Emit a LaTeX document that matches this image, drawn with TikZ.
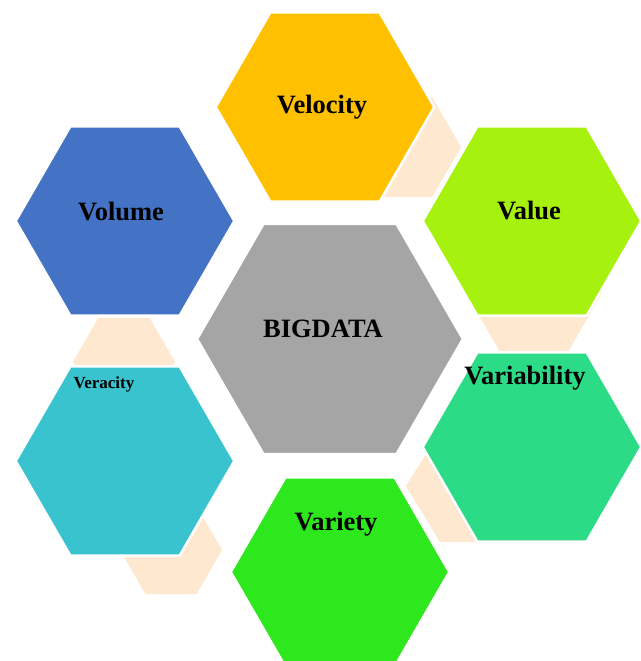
\documentclass[tikz,border=0pt]{standalone}
\usepackage{fontspec}
\setmainfont{Liberation Serif}
\usepackage{xcolor}
\usepackage{tikz}
\usetikzlibrary{positioning,shapes.geometric}

\definecolor{velocitycol}{HTML}{FFC000}
\definecolor{volumecol}{HTML}{4472C4}
\definecolor{valuecol}{HTML}{A7F10E}
\definecolor{bigdatacol}{HTML}{A5A5A5}
\definecolor{veracitycol}{HTML}{38C3CF}
\definecolor{variabilitycol}{HTML}{2BDB86}
\definecolor{varietycol}{HTML}{2EE81E}
\definecolor{peach}{HTML}{FEE8D0}

\begin{document}
\begin{tikzpicture}[x=0.03cm, y=-0.03cm,
  every hexa/.style={shape=regular polygon, regular polygon sides=6, inner sep=0pt, outer sep=0pt},
  colhex/.style={every hexa, draw=white, line width=2.2pt, minimum size=6.56cm},
  link/.style={every hexa, fill=peach},
  lbl/.style={anchor=base, font=\bfseries\fontsize{22.6}{27}\selectfont}]

\useasboundingbox (0,0) rectangle (641,661);

% links behind the hexagons
\foreach \x/\y/\s [count=\i] in {403/147/3.48, 124/362/3.06, 171/550/3.06, 534/293/4.08}
  \node [link, minimum size=\s cm] (link-\i) at (\x,\y) {};
\fill [peach] (441,430) -- (406,486) -- (440,542) -- (476,542) -- (520,430) -- cycle;

\node (velocity) [colhex, fill=velocitycol] at (325,107) {};
\node (volume) [colhex, fill=volumecol] at (125,221) {};
\node (value) [colhex, fill=valuecol] at (532,221) {};
\node (veracity) [colhex, fill=veracitycol] at (125,461) {};
\node (variability) [colhex, fill=variabilitycol] at (532,447) {};
\node (variety) [colhex, fill=varietycol] at (340,572) {};
\node (bigdata) [colhex, fill=bigdatacol, minimum size=7.98cm] at (330,339) {};

\node (velocity-txt) [lbl] at (322,113) {Velocity};
\node (volume-txt) [lbl] at (121,220) {Volume};
\node (value-txt) [lbl] at (529,219) {Value};
\node (bigdata-txt) [lbl] at (323,337) {BIGDATA};
\node (variability-txt) [lbl] at (525,384) {Variability};
\node (veracity-txt) [lbl, font=\bfseries\fontsize{14.5}{17}\selectfont] at (104,388) {Veracity};
\node (variety-txt) [lbl] at (336,530) {Variety};

\end{tikzpicture}
\end{document}
